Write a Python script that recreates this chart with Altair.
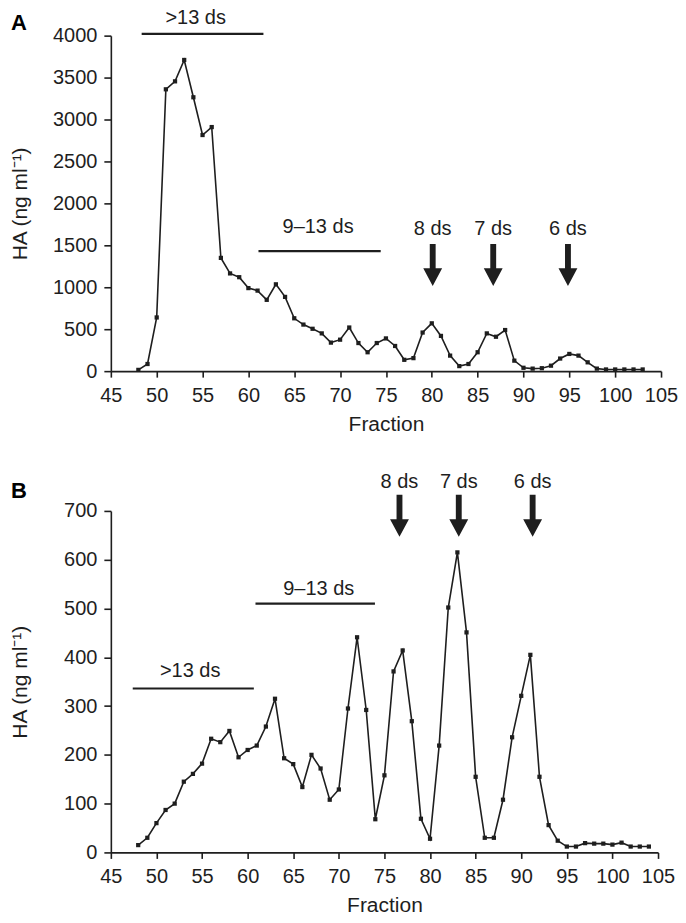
import altair as alt
import pandas as pd

# ---------------- data ----------------
frac_a = list(range(48, 104))
ha_a = [15, 85, 640, 3360, 3455, 3710, 3265, 2815, 2910, 1350,
        1165, 1120, 990, 960, 850, 1035, 885, 630, 555, 505,
        450, 340, 375, 520, 335, 225, 335, 390, 300, 135,
        155, 460, 570, 420, 185, 60, 85, 225, 450, 410,
        490, 125, 40, 30, 35, 65, 150, 205, 185, 105,
        30, 20, 20, 20, 20, 20]

frac_b = list(range(48, 105))
ha_b = [15, 30, 60, 87, 100, 145, 161, 182, 233, 226,
        249, 195, 210, 219, 258, 315, 193, 181, 134, 200,
        172, 108, 129, 295, 441, 292, 68, 158, 371, 414,
        269, 69, 28, 219, 502, 615, 451, 155, 30, 30,
        108, 236, 321, 405, 155, 56, 24, 12, 12, 19,
        18, 18, 16, 20, 12, 12, 12]

# annotation bars (size class ranges)
bar_labels = [">13 ds", "9–13 ds"]
bar_a_start = [48.36, 61.1]
bar_a_end = [61.64, 74.43]
bar_a_y = [4020, 1431]
bar_a_label_x = [54.25, 67.6]
bar_a_label_y = [4216, 1722]

bar_b_start = [47.4, 60.86]
bar_b_end = [60.68, 73.96]
bar_b_y = [336, 510]
bar_b_label_x = [53.7, 67.8]
bar_b_label_y = [371, 539]

# arrows
arrow_labels = ["8 ds", "7 ds", "6 ds"]
arrow_a_x = [80.1, 86.7, 94.85]
arrow_a_y = [1266, 1266, 1266]
arrow_a_label_y = [1699, 1699, 1699]
arrow_b_x = [76.65, 83.15, 91.25]
arrow_b_y = [690, 690, 690]
arrow_b_label_y = [760, 760, 760]

x_ticks = list(range(45, 106, 5))
y_ticks_a = list(range(0, 4001, 500))
y_ticks_b = list(range(0, 701, 100))

FONT = "Liberation Sans"
INK = "#1e1e1e"
ARROW_PATH = "M-0.14,-1L0.14,-1L0.14,0.16L0.45,0.16L0,1L-0.45,0.16L-0.14,0.16Z"


def panel(letter, frac, ha, ymax, yticks, bstart, bend, by, blx, bly,
          ax, ay, aly, width, height, letter_y):
    df = pd.DataFrame({"Fraction": frac, "HA": ha})
    xs = alt.Scale(domain=[45, 105], nice=False, zero=False)
    ys = alt.Scale(domain=[0, ymax], nice=False)
    xaxis = alt.Axis(values=x_ticks, title="Fraction", grid=False,
                     labelOverlap=False, labelFlush=False, format="d")
    yaxis = alt.Axis(values=yticks, title="HA (ng ml⁻¹)", grid=False,
                     titleX=-90, titleBaseline="middle", format="d",
                     labelOverlap=False, labelFlush=False)

    line = alt.Chart(df).mark_line(color=INK, strokeWidth=1.6).encode(
        x=alt.X("Fraction:Q", scale=xs, axis=xaxis),
        y=alt.Y("HA:Q", scale=ys, axis=yaxis),
    )
    pts = alt.Chart(df).mark_square(color=INK, size=18, opacity=1).encode(
        x=alt.X("Fraction:Q", scale=xs),
        y=alt.Y("HA:Q", scale=ys),
    )

    bdf = pd.DataFrame({"x1": bstart, "x2": bend, "y": by,
                        "lx": blx, "ly": bly, "label": bar_labels})
    bars = alt.Chart(bdf).mark_rule(color=INK, strokeWidth=2.2).encode(
        x=alt.X("x1:Q", scale=xs), x2="x2:Q", y=alt.Y("y:Q", scale=ys))
    btext = alt.Chart(bdf).mark_text(font=FONT, fontSize=20, color=INK,
                                     baseline="middle").encode(
        x=alt.X("lx:Q", scale=xs), y=alt.Y("ly:Q", scale=ys), text="label:N")

    adf = pd.DataFrame({"x": ax, "y": ay, "ly": aly, "label": arrow_labels})
    arrows = alt.Chart(adf).mark_point(shape=ARROW_PATH, size=1764, filled=True,
                                       color=INK, opacity=1, strokeWidth=0).encode(
        x=alt.X("x:Q", scale=xs), y=alt.Y("y:Q", scale=ys))
    atext = alt.Chart(adf).mark_text(font=FONT, fontSize=20, color=INK,
                                     baseline="middle").encode(
        x=alt.X("x:Q", scale=xs), y=alt.Y("ly:Q", scale=ys), text="label:N")

    ltext = alt.Chart(pd.DataFrame({"t": [letter]})).mark_text(
        font=FONT, fontSize=22, fontWeight="bold", color="#000",
        baseline="middle", align="center").encode(
        x=alt.value(-92), y=alt.value(letter_y), text="t:N")

    return alt.layer(line, pts, bars, btext, arrows, atext, ltext).properties(
        width=width, height=height)


pa = panel("A", frac_a, ha_a, 4000, y_ticks_a, bar_a_start, bar_a_end, bar_a_y,
           bar_a_label_x, bar_a_label_y, arrow_a_x, arrow_a_y, arrow_a_label_y,
           551, 336, -13)
pb = panel("B", frac_b, ha_b, 700, y_ticks_b, bar_b_start, bar_b_end, bar_b_y,
           bar_b_label_x, bar_b_label_y, arrow_b_x, arrow_b_y, arrow_b_label_y,
           548, 342, -20)

chart = alt.vconcat(pa, pb, spacing=37).properties(
    padding={"left": 2, "top": -2, "right": 0, "bottom": -4}
).configure_view(stroke=None).configure_axis(
    labelFont=FONT, titleFont=FONT, labelFontSize=20, titleFontSize=21,
    titleFontWeight="normal", labelColor=INK, titleColor=INK,
    domainColor=INK, tickColor=INK, domainWidth=1.6, tickWidth=1.6,
    tickSize=7, labelPadding=6
).configure_axisX(titlePadding=8, tickSize=6, labelPadding=8
).configure_axisY(labelPadding=7)

chart.save("out.html", embed_options={"renderer": "svg", "actions": False})
